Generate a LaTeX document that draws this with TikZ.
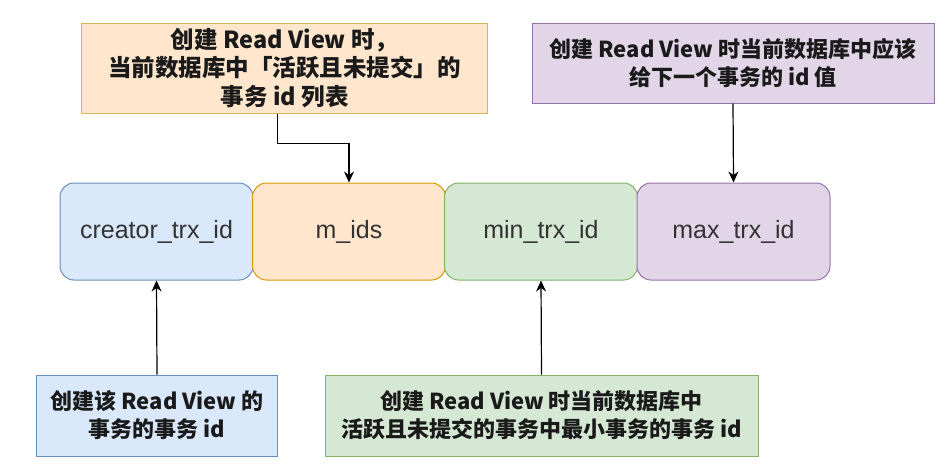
\documentclass[tikz,border=0pt]{standalone}
\usepackage{fontspec}
\setmainfont{Liberation Sans}
\newfontfamily\cjk{Noto Sans CJK SC}
\usetikzlibrary{arrows.meta}
\definecolor{bluefill}{HTML}{DAE8FC}\definecolor{bluedraw}{HTML}{6C8EBF}
\definecolor{orfill}{HTML}{FFE6CC}\definecolor{ordraw}{HTML}{D79B00}
\definecolor{orbox}{HTML}{D6B656}
\definecolor{grfill}{HTML}{D5E8D4}\definecolor{grdraw}{HTML}{82B366}
\definecolor{pufill}{HTML}{E1D5E7}\definecolor{pudraw}{HTML}{9673A6}
\definecolor{txt}{HTML}{1A1A1A}
\tikzset{
  field/.style={rounded corners=14pt, minimum width=193pt, minimum height=97pt, inner sep=0pt, line width=1pt,
    font=\fontsize{25}{29}\selectfont, text=black!80},
  note/.style={inner sep=0pt, line width=1pt, align=center, text=txt,
    font=\cjk\bfseries\fontsize{22}{28}\selectfont},
  bignote/.style={note, font=\cjk\bfseries\fontsize{23.5}{28.5}\selectfont},
  link/.style={line width=1.2pt, -{Stealth[length=11pt,width=10pt]}}
}
\begin{document}
\begin{tikzpicture}[x=1pt,y=-1pt]
\useasboundingbox (0,0) rectangle (947,472);
% middle fields
\node[field, fill=bluefill, draw=bluedraw] (b1) at (156.5,231.5) {creator\_trx\_id};
\node[field, fill=orfill, draw=ordraw] (b2) at (349,231.5) {m\_ids};
\node[field, fill=grfill, draw=grdraw] (b3) at (541,231.5) {min\_trx\_id};
\node[field, fill=pufill, draw=pudraw] (b4) at (733.5,231.5) {max\_trx\_id};
% top notes
\node[bignote, fill=orfill, draw=orbox, minimum width=406pt, minimum height=90pt] (t1) at (284.7,68)
  {创建 Read View 时，\\当前数据库中「活跃且未提交」的\\事务 id 列表};
\node[note, fill=pufill, draw=pudraw, minimum width=402pt, minimum height=80pt] (t2) at (733,63)
  {创建 Read View 时当前数据库中应该\\给下一个事务的 id 值};
% bottom notes
\node[note, fill=bluefill, draw=bluedraw, minimum width=241pt, minimum height=81pt] (d1) at (157,415.5)
  {创建该 Read View 的\\事务的事务 id};
\node[note, fill=grfill, draw=grdraw, minimum width=433pt, minimum height=81pt] (d2) at (541.5,415.5)
  {创建 Read View 时当前数据库中\\活跃且未提交的事务中最小事务的事务 id};
% connectors
\draw[link] ([xshift=-7pt]t1.south) -- ++(0,30) -| (b2.north);
\draw[link] (t2.south) -- (b4.north);
\draw[link] (d1.north) -- (b1.south);
\draw[link] (d2.north) -- (b3.south);
\end{tikzpicture}
\end{document}
